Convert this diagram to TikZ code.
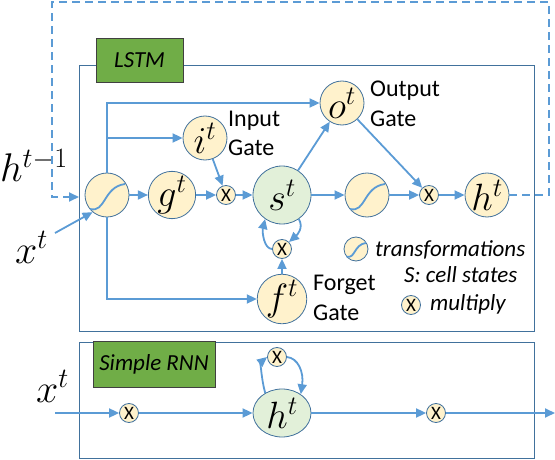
\RequirePackage{fix-cm}
\documentclass[tikz,border=0pt]{standalone}
\usepackage{fontspec}
\setmainfont{Carlito}
\usetikzlibrary{arrows.meta,shapes.geometric,calc}
\definecolor{lb}{HTML}{5B9BD5}
\definecolor{bd}{HTML}{41719C}
\definecolor{yf}{HTML}{FFF2CC}
\definecolor{gf}{HTML}{E2F0D9}
\definecolor{lg}{HTML}{70AD47}
\begin{document}
\begin{tikzpicture}[x=1pt,y=-1pt,
  conn/.style={draw=lb, line width=1.8pt, -{Triangle[length=10pt,width=9pt]}},
  ycirc/.style={circle, draw=bd, line width=0.8pt, fill=yf, inner sep=0pt, minimum size=44pt, font=\fontsize{38}{38}\selectfont},
  gcirc/.style={ycirc, fill=gf, minimum size=58pt},
  mult/.style={circle, draw=bd, line width=0.8pt, fill=yf, inner sep=0pt, minimum size=19pt, font=\fontsize{19}{19}\selectfont},
  gatelbl/.style={anchor=base west, inner sep=0pt, font=\fontsize{24}{24}\selectfont},
  legendlbl/.style={anchor=base west, inner sep=0pt, font=\fontsize{23}{23}\selectfont\itshape},
  tag/.style={draw=black!75, line width=0.8pt, fill=lg, inner sep=0pt, font=\fontsize{23}{23}\selectfont\itshape},
  frame/.style={draw=bd, line width=1pt},
  dashline/.style={draw=lb, line width=1.8pt, dash pattern=on 8pt off 5pt},
  biglabel/.style={inner sep=0pt, anchor=base west, font=\fontsize{40}{40}\selectfont},
  squig/.pic={\draw[lb, line width=1.8pt] (-17,14) .. controls (-1,18) and (-4,-8) .. (18,-11);}
]
\useasboundingbox (0,0) rectangle (555,460);

% frames
\draw[frame] (79,66) rectangle (534,331);
\node[tag, minimum width=87pt, minimum height=44pt] (lstmtag) at (139.5,60) {LSTM};
\draw[frame] (79,342) rectangle (534,458);
\node[tag, minimum width=122pt, minimum height=46pt] (rnntag) at (154,364) {Simple RNN};

% LSTM nodes
\node[ycirc] (t1) at (107,195) {};
\pic at (t1) {squig};
\node[ycirc] (g) at (172,195) {$g^t$};
\node[mult] (m1) at (226,195) {X};
\node[ycirc] (i) at (205,138) {$i^t$};
\node[gcirc] (s) at (282,195) {$s^t$};
\node[ycirc] (o) at (342,103) {$o^t$};
\node[ycirc] (t2) at (367,195) {};
\pic at (t2) {squig};
\node[mult] (m2) at (429,195) {X};
\node[ycirc] (h) at (487,195) {$h^t$};
\node[mult] (m3) at (282,249) {X};
\node[ycirc, minimum size=48pt] (f) at (282,299) {$f^t$};

% labels
\node[biglabel] (hlab) at (0,182) {$h^{t-1}$};
\node[biglabel] (xlab) at (15,263) {$x^t$};
\node[biglabel] (xlab2) at (36,402) {$x^t$};
\node[gatelbl] at (228,127) {Input};
\node[gatelbl] at (228,155) {Gate};
\node[gatelbl] at (370,97) {Output};
\node[gatelbl] at (370,127) {Gate};
\node[gatelbl] at (313,290) {Forget};
\node[gatelbl] at (313,320) {Gate};

% legend
\node[ycirc, minimum size=24pt] (lt) at (356,249) {};
\pic[scale=0.55] at (lt) {squig};
\node[legendlbl] at (375,256) {transformations};
\node[legendlbl] at (404,282) {S: cell states};
\node[mult] (lm) at (411,305) {X};
\node[legendlbl] at (430,310) {multiply};

% connectors LSTM
\coordinate (xin) at (55,233);
\draw[conn] (xin) -- (t1.230);
\draw[conn] (t1.north) |- (o.west);
\draw[conn] (t1.north |- i.west) -- (i.west);
\draw[conn] (t1.south) |- (f.west);
\draw[conn] (t1) -- (g);
\draw[conn] (g) -- (m1);
\draw[conn] (i) -- (m1);
\draw[conn] (m1) -- (s);
\draw[conn] (s) -- (o);
\draw[conn] (s) -- (t2);
\draw[conn] (t2) -- (m2);
\draw[conn] (o) -- (m2);
\draw[conn] (m2) -- (h);
\draw[conn] (f) -- (m3);
\draw[conn] (s.-55) .. controls (304,228) and (297,235) .. (m3.north east);
\draw[conn] (m3.west) .. controls (264,249) and (262,232) .. (s.235);

% recurrent dashed
\coordinate (c1) at (549,195);
\coordinate (c2) at (549,2);
\coordinate (c3) at (52,2);
\coordinate (c4) at (52,197);
\coordinate (hin) at (79,197);
\draw[dashline, -{Triangle[length=10pt,width=9pt]}] (h.east) -- (c1) -- (c2) -- (c3) -- (c4) -- (hin);

% Simple RNN
\coordinate (rin) at (55,413);
\coordinate (rout) at (555,413);
\node[mult] (rm1) at (129,413) {X};
\node[ellipse, draw=bd, line width=0.8pt, fill=gf, inner sep=0pt, minimum width=58pt, minimum height=48pt, font=\fontsize{38}{38}\selectfont] (rh) at (282,413) {$h^t$};
\node[mult] (rm2) at (277,357) {X};
\node[mult] (rm3) at (436,413) {X};
\draw[conn] (rin) -- (rm1);
\draw[conn] (rm1) -- (rh);
\draw[conn] (rh) -- (rm3);
\draw[conn] (rm3) -- (rout);
\draw[conn] (rh.130) .. controls (261,378) and (261,362) .. (rm2.west);
\draw[conn] (rm2.east) .. controls (298,358) and (304,372) .. (rh.45);
\end{tikzpicture}
\end{document}
